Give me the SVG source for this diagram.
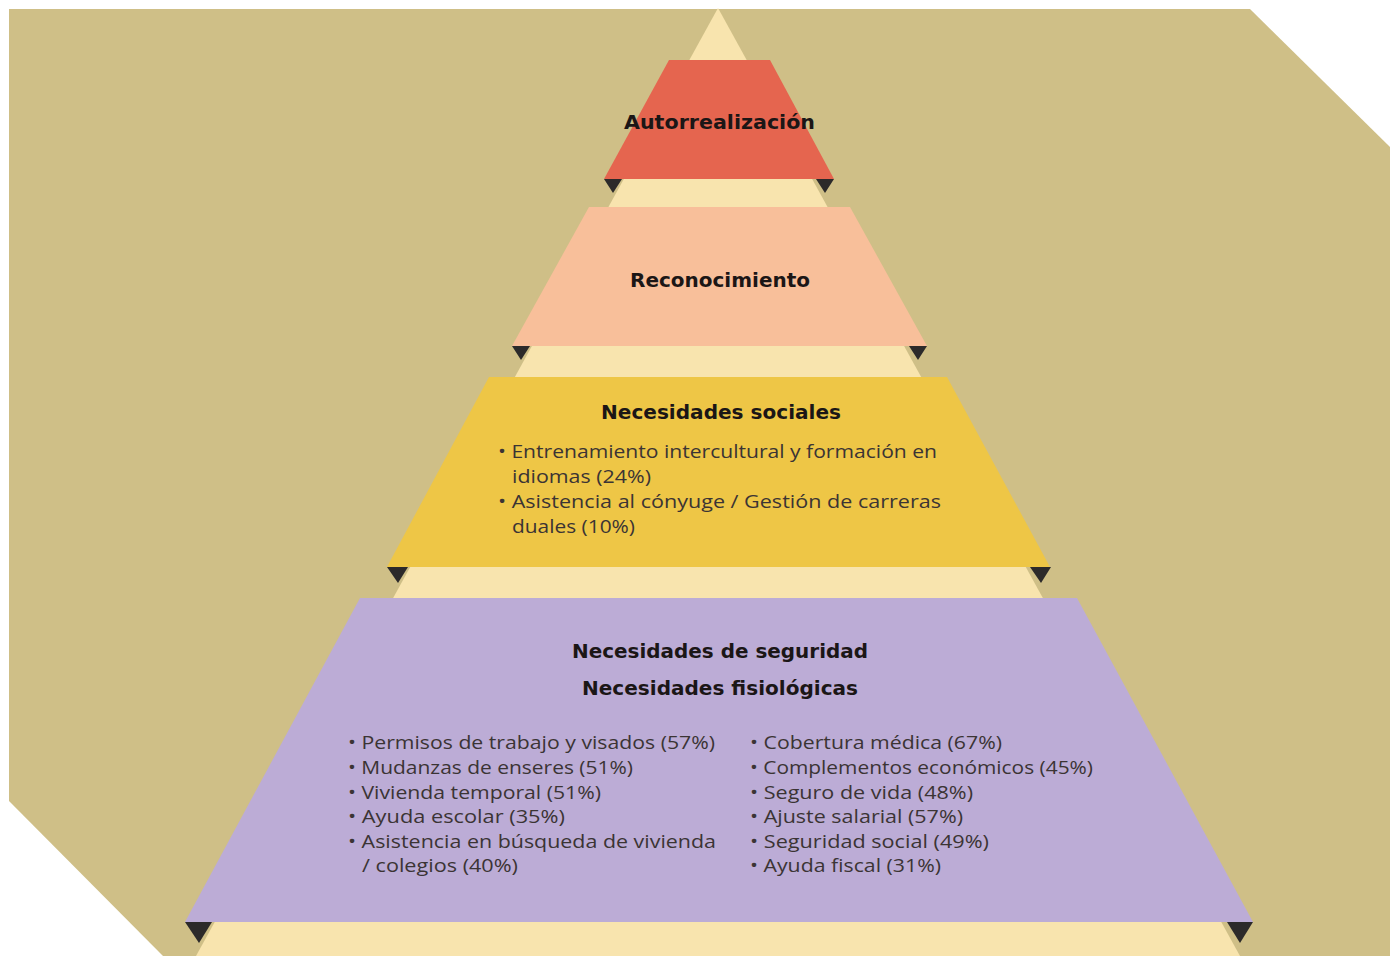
<svg xmlns="http://www.w3.org/2000/svg" width="1390" height="956" viewBox="0 0 1390 956">
<style>
.title{font-family:"DejaVu Sans","Noto Sans",sans-serif;font-weight:bold;font-size:20px;fill:#1b1616;text-anchor:middle}
.item{font-family:"Open Sans","Noto Sans",sans-serif;font-size:17.5px;font-weight:500;fill:#3b3434}
.tri{fill:#2c2a2a}
</style>
<rect width="1390" height="956" fill="#ffffff"/>
<polygon points="9,9 1250,9 1390,147 1390,956 163,956 9,801" fill="#CFBF87"/>
<polygon points="718,8 1240,956 196,956" fill="#F8E4AE"/>
<g id="autorrealizacion">
<polygon points="669,60 770,60 834,179 604,179" fill="#E5654F"/>
<polygon class="tri" points="604,179 622,179 613,193"/>
<polygon class="tri" points="816,179 834,179 825,193"/>
<text class="title" x="719.5" y="129" textLength="191" lengthAdjust="spacingAndGlyphs">Autorrealización</text>
</g>
<g id="reconocimiento">
<polygon points="589,207 850,207 927,346 512,346" fill="#F8BF9A"/>
<polygon class="tri" points="512,346 530,346 521,360"/>
<polygon class="tri" points="909,346 927,346 918,360"/>
<text class="title" x="720" y="287" textLength="180" lengthAdjust="spacingAndGlyphs">Reconocimiento</text>
</g>
<g id="sociales">
<polygon points="489,377 947,377 1050,567 387,567" fill="#EEC646"/>
<polygon class="tri" points="387,567 408,567 398,583"/>
<polygon class="tri" points="1030,567 1051,567 1041,583"/>
<text class="title" x="721" y="419" textLength="240" lengthAdjust="spacingAndGlyphs">Necesidades sociales</text>
<text class="item" x="498" y="458" textLength="439" lengthAdjust="spacingAndGlyphs">• Entrenamiento intercultural y formación en</text>
<text class="item" x="512" y="483" textLength="139" lengthAdjust="spacingAndGlyphs">idiomas (24%)</text>
<text class="item" x="498" y="508" textLength="443" lengthAdjust="spacingAndGlyphs">• Asistencia al cónyuge / Gestión de carreras</text>
<text class="item" x="512" y="533" textLength="123" lengthAdjust="spacingAndGlyphs">duales (10%)</text>
</g>
<g id="seguridad">
<polygon points="360,598 1077,598 1253,922 185,922" fill="#BCACD6"/>
<polygon class="tri" points="185,922 212,922 199,943"/>
<polygon class="tri" points="1227,922 1253,922 1240,943"/>
<text class="title" x="720" y="658" textLength="296" lengthAdjust="spacingAndGlyphs">Necesidades de seguridad</text>
<text class="title" x="720" y="695" textLength="276" lengthAdjust="spacingAndGlyphs">Necesidades fisiológicas</text>
<text class="item" x="348" y="749" textLength="367" lengthAdjust="spacingAndGlyphs">• Permisos de trabajo y visados (57%)</text>
<text class="item" x="348" y="774" textLength="285" lengthAdjust="spacingAndGlyphs">• Mudanzas de enseres (51%)</text>
<text class="item" x="348" y="798.5" textLength="253" lengthAdjust="spacingAndGlyphs">• Vivienda temporal (51%)</text>
<text class="item" x="348" y="823" textLength="217" lengthAdjust="spacingAndGlyphs">• Ayuda escolar (35%)</text>
<text class="item" x="348" y="847.5" textLength="368" lengthAdjust="spacingAndGlyphs">• Asistencia en búsqueda de vivienda</text>
<text class="item" x="362" y="872" textLength="156" lengthAdjust="spacingAndGlyphs">/ colegios (40%)</text>
<text class="item" x="750" y="749" textLength="252" lengthAdjust="spacingAndGlyphs">• Cobertura médica (67%)</text>
<text class="item" x="750" y="774" textLength="343" lengthAdjust="spacingAndGlyphs">• Complementos económicos (45%)</text>
<text class="item" x="750" y="798.5" textLength="223" lengthAdjust="spacingAndGlyphs">• Seguro de vida (48%)</text>
<text class="item" x="750" y="823" textLength="213" lengthAdjust="spacingAndGlyphs">• Ajuste salarial (57%)</text>
<text class="item" x="750" y="847.5" textLength="239" lengthAdjust="spacingAndGlyphs">• Seguridad social (49%)</text>
<text class="item" x="750" y="872" textLength="191" lengthAdjust="spacingAndGlyphs">• Ayuda fiscal (31%)</text>
</g>
<g id="connectors"></g>
</svg>
